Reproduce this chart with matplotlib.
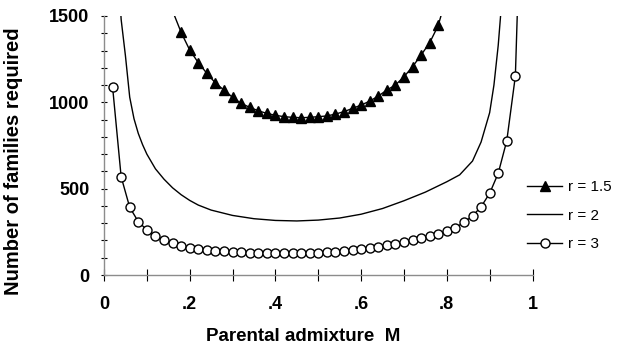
import matplotlib
matplotlib.use("Agg")
import matplotlib.pyplot as plt
from matplotlib.ticker import MultipleLocator, FixedLocator

plt.rcParams['font.family'] = ['Liberation Sans', 'DejaVu Sans']

# ---- data ----
# r = 1.5 (filled triangles); first/last line points run off the top
r15_x = [0.16, 0.18, 0.20, 0.22, 0.24, 0.26, 0.28, 0.30, 0.32, 0.34, 0.36, 0.38,
         0.40, 0.42, 0.44, 0.46, 0.48, 0.50, 0.52, 0.54, 0.56, 0.58, 0.60, 0.62,
         0.64, 0.66, 0.68, 0.70, 0.72, 0.74, 0.76, 0.78, 0.80]
r15_y = [1530, 1405, 1303, 1230, 1168, 1112, 1071, 1029, 994, 971, 951, 936,
         925, 917, 913, 911, 913, 917, 921, 932, 946, 965, 984, 1007,
         1036, 1071, 1100, 1148, 1206, 1274, 1345, 1445, 1620]

# r = 2 (plain line)
r2_x = [0.035, 0.040, 0.050, 0.060, 0.070, 0.080, 0.090, 0.10, 0.12, 0.14, 0.16,
        0.18, 0.20, 0.22, 0.25, 0.30, 0.35, 0.40, 0.45, 0.50, 0.55, 0.60, 0.65,
        0.70, 0.75, 0.80, 0.83, 0.86, 0.88, 0.90, 0.91, 0.92, 0.93]
r2_y = [1700, 1480, 1270, 1030, 905, 820, 755, 700, 615, 555, 505,
        465, 432, 405, 376, 345, 326, 316, 313, 318, 330, 352, 385,
        430, 480, 540, 580, 660, 770, 940, 1100, 1330, 1640]

# r = 3 (open circles); last line point runs off the top
r3_x = [0.02, 0.04, 0.06, 0.08, 0.10, 0.12, 0.14, 0.16, 0.18, 0.20, 0.22, 0.24,
        0.26, 0.28, 0.30, 0.32, 0.34, 0.36, 0.38, 0.40, 0.42, 0.44, 0.46, 0.48,
        0.50, 0.52, 0.54, 0.56, 0.58, 0.60, 0.62, 0.64, 0.66, 0.68, 0.70, 0.72,
        0.74, 0.76, 0.78, 0.80, 0.82, 0.84, 0.86, 0.88, 0.90, 0.92, 0.94, 0.96, 0.97]
r3_y = [1090, 569, 392, 309, 261, 226, 203, 183, 168, 158, 150, 145,
        141, 137, 134, 131, 129, 128, 127, 126, 126, 126, 127, 128,
        129, 131, 135, 141, 147, 153, 158, 164, 172, 181, 189, 201,
        212, 228, 238, 253, 274, 305, 342, 395, 473, 589, 778, 1152, 1950]

series_labels = ['r = 1.5', 'r = 2', 'r = 3']
x_ticks = [0, 0.2, 0.4, 0.6, 0.8, 1.0]
x_ticklabels = ['0', '.2', '.4', '.6', '.8', '1']
y_ticks = [0, 500, 1000, 1500]
y_ticklabels = ['0', '500', '1000', '1500']
x_title = 'Parental admixture  M'
y_title = 'Number of families required'

# ---- figure ----
W, H = 618, 347
fig = plt.figure(figsize=(W / 100, H / 100), dpi=100)
ax = fig.add_axes([104 / W, 1 - 275 / H, (532.5 - 104) / W, (275 - 16) / H])

lw = 1.0
ax.plot(r15_x, r15_y, color='black', lw=lw, marker='^', ms=7,
        mfc='black', mec='black', markevery=list(range(1, len(r15_x) - 1)),
        label=series_labels[0])
ax.plot(r2_x, r2_y, color='black', lw=lw, label=series_labels[1])
ax.plot(r3_x, r3_y, color='black', lw=lw, marker='o', ms=6.5,
        mfc='white', mec='black', mew=1.0,
        markevery=list(range(0, len(r3_x) - 1)), label=series_labels[2])

ax.set_xlim(0, 1)
ax.set_ylim(0, 1500)

for s in ['top', 'right']:
    ax.spines[s].set_visible(False)
for s in ['left', 'bottom']:
    ax.spines[s].set_color('#8c8c8c')
    ax.spines[s].set_linewidth(1.0)

ax.xaxis.set_major_locator(FixedLocator(x_ticks))
ax.set_xticklabels(x_ticklabels)
ax.xaxis.set_minor_locator(MultipleLocator(0.1))
ax.yaxis.set_major_locator(FixedLocator(y_ticks))
ax.set_yticklabels(y_ticklabels)
ax.yaxis.set_minor_locator(MultipleLocator(100))

ax.tick_params(axis='x', which='both', direction='inout', length=8, width=0.8,
               color='black', pad=11)
ax.tick_params(axis='y', which='both', direction='inout', length=5, width=0.8,
               color='black', pad=8)
for lab in ax.get_xticklabels() + ax.get_yticklabels():
    lab.set_fontsize(13)
    lab.set_fontweight('bold')

ax.set_xlabel(x_title, fontsize=13.5, fontweight='bold')
ax.set_ylabel(y_title, fontsize=14.5, fontweight='bold')
ax.xaxis.set_label_coords(0.464, -0.205)
ax.yaxis.set_label_coords(-0.19, 0.44)

fig.legend(loc='upper left', bbox_to_anchor=(527 / W, 1 - 180 / H),
           frameon=False, fontsize=11, handlelength=2.3, handletextpad=0.4,
           borderpad=0, borderaxespad=0, labelspacing=0.95, markerscale=1.0)

fig.savefig('out.png', dpi=100)
